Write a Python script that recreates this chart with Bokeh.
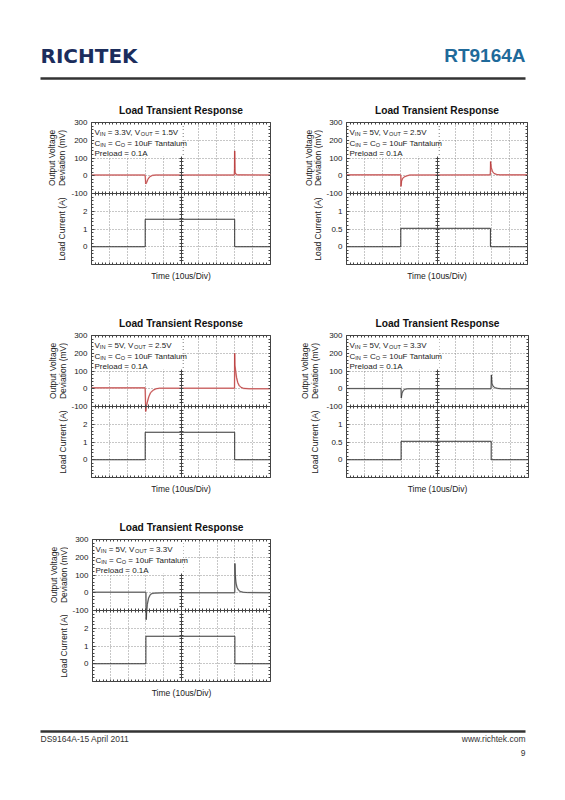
import numpy as np
from bokeh.plotting import figure
from bokeh.models import Range1d, LinearAxis, FixedTicker, Label, BoxAnnotation, Spacer
from bokeh.layouts import column, row
from bokeh.embed import file_html
from bokeh.resources import INLINE

FONT = "Liberation Sans"

# ---------------- data ----------------
TITLE = "Load Transient Response"
X_LABEL = "Time (10us/Div)"
V_LABEL = ["Output Voltage", "Deviation (mV)"]
I_LABEL = "Load Current (A)"
PRELOAD = "Preload = 0.1A"
CAP = "10uF Tantalum"
T_SPAN = [0, 100]            # us (10 us/div)
V_SPAN = [-100, 300]         # mV, upper half of the screen
V_TICKS = [-100, 0, 100, 200, 300]

# chart 1: VIN=3.3V, VOUT=1.5V, 0 -> 1.55 A
c1_vin, c1_vout = "3.3V", "1.5V"
c1_tv = [0, 29.8, 30.0, 30.3, 30.8, 31.5, 32.5, 34.0, 36.0, 79.8, 79.9, 80.0, 80.2, 80.6, 81.5, 100]
c1_v = [4, 4, 0, -46, -38, -20, -6, 2, 4, 4, 40, 140, 20, 10, 5, 4]
c1_ti = [0, 30, 30, 80, 80, 100]
c1_i = [0, 0, 1.55, 1.55, 0, 0]
c1_i_span = [-1, 3]
c1_i_ticks = [0, 1, 2]
c1_i_labels = ["0", "1", "2"]

# chart 2: VIN=5V, VOUT=2.5V, 0 -> 0.52 A
c2_vin, c2_vout = "5V", "2.5V"
c2_tv = [0, 29.9, 30.0, 30.1, 30.4, 31.0, 32.0, 33.5, 35.0, 79.4, 79.5, 79.6, 80.0, 80.6, 81.5, 83.0, 85.0, 100]
c2_v = [5, 5, 0, -60, -30, -15, -6, 0, 4, 5, 20, 80, 45, 25, 13, 7, 5, 5]
c2_ti = [0, 30, 30, 79.5, 79.5, 100]
c2_i = [0, 0, 0.52, 0.52, 0, 0]
c2_i_span = [-0.5, 1.5]
c2_i_ticks = [0, 0.5, 1]
c2_i_labels = ["0", "0.5", "1"]

# chart 3: VIN=5V, VOUT=2.5V, 0 -> 1.55 A
c3_vin, c3_vout = "5V", "2.5V"
c3_tv = [0, 29.9, 30.0, 30.3, 30.6, 31.2, 32.0, 33.0, 34.5, 36.0, 38.0, 79.9, 80.0, 80.1, 80.4, 81.0, 81.7, 82.5, 83.5, 85.0, 88.0, 100]
c3_v = [5, 5, 0, -128, -100, -75, -45, -22, -8, 0, 3, 3, 200, 130, 110, 65, 35, 18, 8, 2, 0, 0]
c3_ti = [0, 30, 30, 80, 80, 100]
c3_i = [0, 0, 1.55, 1.55, 0, 0]
c3_i_span = [-1, 3]
c3_i_ticks = [0, 1, 2]
c3_i_labels = ["0", "1", "2"]

# chart 4: VIN=5V, VOUT=3.3V, 0 -> 0.52 A
c4_vin, c4_vout = "5V", "3.3V"
c4_tv = [0, 29.9, 30.0, 30.1, 30.5, 31.2, 32.0, 33.5, 79.4, 79.5, 79.6, 79.9, 80.5, 81.5, 83.0, 85.0, 100]
c4_v = [1, 1, -5, -52, -25, -10, -3, 0, 0, 20, 78, 30, 15, 6, 2, 0, 0]
c4_ti = [0, 30, 30, 79.5, 79.5, 100]
c4_i = [0, 0, 0.52, 0.52, 0, 0]
c4_i_span = [-0.5, 1.5]
c4_i_ticks = [0, 0.5, 1]
c4_i_labels = ["0", "0.5", "1"]

# chart 5: VIN=5V, VOUT=3.3V, 0 -> 1.55 A
c5_vin, c5_vout = "5V", "3.3V"
c5_tv = [0, 29.9, 30.0, 30.15, 30.4, 30.8, 31.5, 32.5, 33.5, 35.0, 40.0, 79.9, 80.0, 80.2, 80.6, 81.2, 82.0, 83.0, 84.5, 87.0, 100]
c5_v = [3, 3, 0, -152, -110, -65, -30, -10, -4, -2, 0, 0, 165, 100, 55, 30, 15, 7, 3, 1, 0]
c5_ti = [0, 30, 30, 80, 80, 100]
c5_i = [0, 0, 1.55, 1.55, 0, 0]
c5_i_span = [-1, 3]
c5_i_ticks = [0, 1, 2]
c5_i_labels = ["0", "1", "2"]

# ---------------- helpers ----------------
ARIAL = {' ': 278, ',': 278, '.': 278, '=': 584, 'V': 667, 'I': 278, 'N': 722,
         'O': 778, 'U': 722, 'T': 611, 'C': 722}


def tw(s, size):
    return sum(ARIAL.get(ch, 556) for ch in s) * size / 1000.0


MAIN_FS = 8.0
SUB_FS = 5.6
FULL_V_LO = V_SPAN[0] - (V_SPAN[1] - V_SPAN[0])


def add_rich(p, pieces, y_off, x0=3.0):
    x = x0
    for txt, sub in pieces:
        size = SUB_FS if sub else MAIN_FS
        lead = len(txt) - len(txt.lstrip(' '))
        x += tw(' ' * lead, MAIN_FS)
        body = txt.strip(' ')
        p.add_layout(Label(x=T_SPAN[0], y=V_SPAN[1], x_offset=x,
                           y_offset=y_off - (1.6 if sub else 0.0), text=body,
                           text_font=FONT, text_font_size=f"{size}px",
                           text_color="#222222", text_baseline="alphabetic",
                           text_align="left"))
        x += tw(body, size)


def edge_axis(minor, side, p):
    ax = LinearAxis(ticker=FixedTicker(ticks=[], minor_ticks=minor))
    ax.axis_line_color = None
    ax.minor_tick_in = 2
    ax.minor_tick_out = 0
    ax.minor_tick_line_color = "#444444"
    p.add_layout(ax, side)
    return ax


def label_strip(W, H, mbt, mbb, xs):
    """Narrow figure left of a chart that holds the rotated axis titles."""
    f = figure(width=W, height=H, x_range=Range1d(0, W),
               y_range=Range1d(FULL_V_LO, V_SPAN[1]),
               x_axis_type=None, y_axis_type=None, output_backend="svg",
               toolbar_location=None, min_border_left=0, min_border_right=0,
               min_border_top=mbt, min_border_bottom=mbb, outline_line_color=None,
               background_fill_color="white", border_fill_color="white")
    f.xgrid.visible = False
    f.ygrid.visible = False
    v_mid = (V_SPAN[0] + V_SPAN[1]) / 2
    i_mid = (FULL_V_LO + V_SPAN[0]) / 2
    for txt, x in zip(V_LABEL, xs):
        f.add_layout(Label(x=x, y=v_mid, text=txt, angle=np.pi / 2,
                           text_align="center", text_baseline="middle",
                           text_font=FONT, text_font_size="8.5px",
                           text_color="#222222"))
    f.add_layout(Label(x=xs[1], y=i_mid, text=I_LABEL, angle=np.pi / 2,
                       text_align="center", text_baseline="middle",
                       text_font=FONT, text_font_size="8.5px",
                       text_color="#222222"))
    return f


def make_chart(W, H, mbl, mbr, mbt, mbb, vin, vout, tv, vv, ti, ii,
               i_span, i_ticks, i_labels, trace, halo):
    v_lo, v_hi = V_SPAN
    full_v_lo = FULL_V_LO
    c_lo, c_hi = i_span
    full_c_hi = c_hi + (c_hi - c_lo)
    p = figure(width=W, height=H, x_range=Range1d(*T_SPAN),
               y_range=Range1d(full_v_lo, v_hi),
               output_backend="svg", toolbar_location=None,
               min_border_left=mbl, min_border_right=mbr,
               min_border_top=mbt, min_border_bottom=mbb,
               background_fill_color="white", border_fill_color="white")
    p.extra_y_ranges = {"cur": Range1d(c_lo, full_c_hi)}

    # graticule
    t_div = list(np.arange(T_SPAN[0], T_SPAN[1] + 1, 10))
    v_div = list(np.arange(full_v_lo, v_hi + 1, 100))
    t_min = list(np.arange(T_SPAN[0], T_SPAN[1] + 0.1, 2))
    v_min = list(np.arange(full_v_lo, v_hi + 1, 20))
    p.xgrid.ticker = FixedTicker(ticks=t_div)
    p.ygrid.ticker = FixedTicker(ticks=v_div)
    for g in (p.xgrid[0], p.ygrid[0]):
        g.grid_line_color = "#8f8f8f"
        g.grid_line_dash = "1 2"
        g.grid_line_width = 1
    p.outline_line_color = "#444444"
    p.outline_line_width = 1

    # title
    p.title.text = TITLE
    p.title.align = "center"
    p.title.text_font = FONT
    p.title.text_font_size = "10.2px"
    p.title.text_font_style = "bold"
    p.title.text_color = "#111111"
    p.title.standoff = 13

    # left axis: voltage labels on the top half, current labels on the bottom half
    scale = (v_hi - full_v_lo) / (full_c_hi - c_lo)
    cur_pos = [int(round(full_v_lo + (c - c_lo) * scale)) for c in i_ticks]
    overrides = {int(v): str(v) for v in V_TICKS}
    for pos, lab in zip(cur_pos, i_labels):
        overrides[pos] = lab
    ya = p.yaxis[0]
    ya.ticker = FixedTicker(ticks=V_TICKS + cur_pos, minor_ticks=v_min)
    ya.major_label_overrides = overrides
    ya.axis_line_color = None
    ya.major_tick_in = 3
    ya.major_tick_out = 0
    ya.minor_tick_in = 2
    ya.minor_tick_out = 0
    ya.major_tick_line_color = "#444444"
    ya.minor_tick_line_color = "#444444"
    ya.major_label_standoff = 4
    ya.major_label_text_font = FONT
    ya.major_label_text_font_size = "8px"
    ya.major_label_text_color = "#222222"

    xa = p.xaxis[0]
    xa.ticker = FixedTicker(ticks=[], minor_ticks=t_min)
    xa.axis_line_color = None
    xa.minor_tick_in = 2
    xa.minor_tick_out = 0
    xa.minor_tick_line_color = "#444444"
    xa.axis_label = X_LABEL
    xa.axis_label_text_font = FONT
    xa.axis_label_text_font_size = "8.5px"
    xa.axis_label_text_font_style = "normal"
    xa.axis_label_text_color = "#222222"
    xa.axis_label_standoff = 6

    edge_axis(t_min, "above", p)
    edge_axis(v_min, "right", p)

    # centre cross lines of the scope graticule
    cv = LinearAxis(fixed_location=(T_SPAN[0] + T_SPAN[1]) / 2,
                    ticker=FixedTicker(ticks=[], minor_ticks=v_min))
    cv.axis_line_color = "#444444"
    cv.minor_tick_in = 2
    cv.minor_tick_out = 2
    cv.minor_tick_line_color = "#444444"
    p.add_layout(cv, "left")
    ch = LinearAxis(fixed_location=v_lo,
                    ticker=FixedTicker(ticks=[], minor_ticks=t_min))
    ch.axis_line_color = "#444444"
    ch.minor_tick_in = 2
    ch.minor_tick_out = 2
    ch.minor_tick_line_color = "#444444"
    p.add_layout(ch, "below")

    # traces
    p.line(tv, vv, line_color=halo, line_width=1.6)
    p.line(tv, vv, line_color=trace, line_width=0.7)
    p.line(ti, ii, y_range_name="cur", line_color="#333333", line_width=1.0)

    # condition box
    p.add_layout(BoxAnnotation(left=1.5, right=51, bottom=108, top=286,
                               fill_color="white", fill_alpha=1.0,
                               line_color=None))
    add_rich(p, [("V", False), ("IN", True), (" = " + vin + ", V", False),
                 ("OUT", True), (" = " + vout, False)], -10)
    add_rich(p, [("C", False), ("IN", True), (" = C", False), ("O", True),
                 (" = " + CAP, False)], -20.5)
    add_rich(p, [(PRELOAD, False)], -31)
    return p


RED, PINK = "#b02a2a", "#e9b0b0"
BLK, GRY = "#2a2a2a", "#bdbdbd"

s1 = label_strip(60, 210, 28, 38, [43, 53])
p1 = make_chart(225, 210, 22, 23, 28, 38, c1_vin, c1_vout, c1_tv, c1_v, c1_ti, c1_i,
                c1_i_span, c1_i_ticks, c1_i_labels, RED, PINK)
s2 = label_strip(30, 210, 29, 39, [15, 24])
p2 = make_chart(234, 210, 21, 30, 29, 39, c2_vin, c2_vout, c2_tv, c2_v, c2_ti, c2_i,
                c2_i_span, c2_i_ticks, c2_i_labels, RED, PINK)
s3 = label_strip(60, 205, 32, 29, [44, 54])
p3 = make_chart(225, 205, 22, 23, 32, 29, c3_vin, c3_vout, c3_tv, c3_v, c3_ti, c3_i,
                c3_i_span, c3_i_ticks, c3_i_labels, RED, PINK)
s4 = label_strip(30, 205, 32, 31, [11, 21])
p4 = make_chart(234, 205, 22, 29, 32, 31, c4_vin, c4_vout, c4_tv, c4_v, c4_ti, c4_i,
                c4_i_span, c4_i_ticks, c4_i_labels, BLK, GRY)
s5 = label_strip(60, 200, 31, 27, [45, 55])
p5 = make_chart(225, 200, 24, 23, 31, 27, c5_vin, c5_vout, c5_tv, c5_v, c5_ti, c5_i,
                c5_i_span, c5_i_ticks, c5_i_labels, BLK, GRY)


def page_band(h):
    f = figure(width=549, height=h, x_range=Range1d(0, 549), y_range=Range1d(h, 0),
               x_axis_type=None, y_axis_type=None, output_backend="svg",
               toolbar_location=None, min_border=0, outline_line_color=None,
               background_fill_color="white", border_fill_color="white")
    f.xgrid.visible = False
    f.ygrid.visible = False
    return f


head = page_band(85)
head.segment(x0=[32], y0=[70], x1=[517], y1=[70], line_color="#333333", line_width=2.5)
head.add_layout(Label(x=32, y=47, text="RICHTEK", text_font="DejaVu Sans",
                      text_font_style="bold", text_font_size="20px",
                      text_color="#1b2d5c", text_baseline="middle"))
head.add_layout(Label(x=517, y=47, text="RT9164A", text_font=FONT,
                      text_font_style="bold", text_font_size="19px",
                      text_color="#1f6a9a", text_baseline="middle", text_align="right"))

foot = page_band(82)
foot.segment(x0=[32], y0=[23], x1=[517], y1=[23], line_color="#333333", line_width=2.5)
foot.add_layout(Label(x=32, y=30, text="DS9164A-15  April  2011", text_font=FONT,
                      text_font_size="8.5px", text_color="#333333", text_baseline="middle"))
foot.add_layout(Label(x=517, y=30, text="www.richtek.com", text_font=FONT,
                      text_font_size="8.5px", text_color="#333333", text_baseline="middle",
                      text_align="right"))
foot.add_layout(Label(x=517, y=44, text="9", text_font=FONT,
                      text_font_size="8.5px", text_color="#333333", text_baseline="middle",
                      text_align="right"))

page = column(head,
              row(s1, p1, s2, p2),
              row(s3, p3, s4, p4),
              row(s5, p5, Spacer(width=264, height=200)),
              foot)
layout = column(Spacer(width=557, height=8), row(Spacer(width=8, height=782), page))

open("out.html", "w").write(file_html(layout, INLINE))
